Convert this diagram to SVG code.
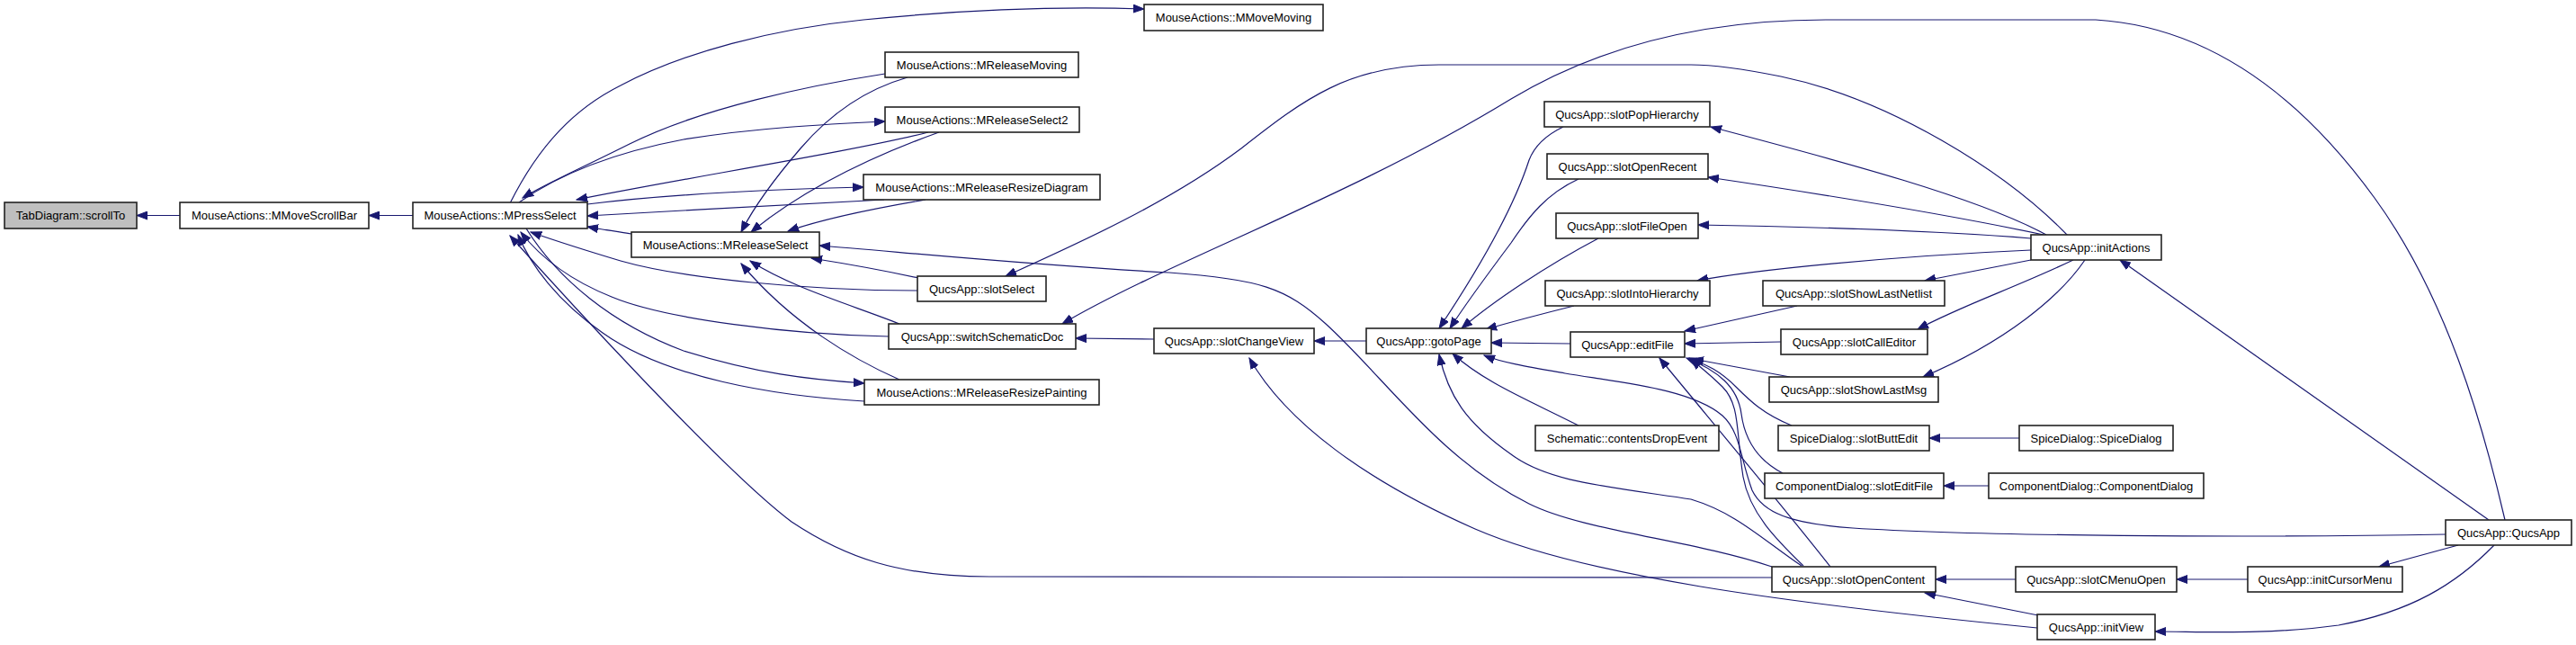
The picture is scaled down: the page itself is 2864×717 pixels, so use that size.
<svg xmlns="http://www.w3.org/2000/svg" width="2864" height="717" viewBox="0 0 2864 717">
<defs>
<marker id="ah" markerWidth="13" markerHeight="10" refX="12" refY="5" orient="auto" markerUnits="userSpaceOnUse">
<path d="M0,0.5 L12,5 L0,9.5 z" fill="#191970" stroke="#191970" stroke-width="1"/>
</marker>
<style>
.n rect{fill:#fff;stroke:#222;stroke-width:1.6}
.n.root rect{fill:#bfbfbf}
.n text{font-family:"Liberation Sans",Arial,sans-serif;font-size:13px;fill:#000;text-anchor:middle}
.e path{fill:none;stroke:#191970;stroke-width:1.2;marker-end:url(#ah)}
</style>
</defs>
<rect width="2864" height="717" fill="#fff"/>
<g id="edges" class="e">
<path d="M200,239.5 L152,239.5"/>
<path d="M459,239.5 L410,239.5"/>
<path d="M702,260 C690,258 675,256 653,252"/>
<path d="M567,226 C600,160 640,120 690,95 C760,58 860,32 960,22 C1080,10 1180,7 1272,10"/>
<path d="M984,82 C900,95 780,120 700,160 C640,190 605,205 581,220"/>
<path d="M1009,86 C960,100 920,130 890,165 C860,200 838,230 824,258"/>
<path d="M577,225 C620,195 680,170 760,155 C840,142 920,138 984,135"/>
<path d="M1032,147 C950,168 760,198 641,222"/>
<path d="M1044,147 C980,170 900,205 835,258"/>
<path d="M653,227 C750,215 880,210 960,208"/>
<path d="M983,222 C900,226 760,234 653,240"/>
<path d="M1029,222 C970,232 910,245 876,257"/>
<path d="M1970,630 C1880,600 1760,590 1700,560 C1600,510 1540,420 1474,360 C1430,320 1400,310 1300,303 C1150,295 1000,280 911,273"/>
<path d="M1021,309 C980,300 940,293 902,287"/>
<path d="M1020,323 C900,323 760,310 690,290 C640,275 610,265 590,258"/>
<path d="M2300,263 C2230,190 2100,110 1980,85 C1930,75 1900,72 1880,72 L1600,72 C1500,72 1450,110 1380,165 C1300,225 1200,270 1118,307"/>
<path d="M2785,578 C2760,470 2720,330 2640,220 C2560,110 2460,30 2330,22 L2030,22 C1900,22 1780,50 1680,110 C1500,220 1300,290 1181,360"/>
<path d="M1283,377 L1196,376"/>
<path d="M1519,379 L1461,379"/>
<path d="M2265,698 C1980,670 1760,640 1640,588 C1520,535 1430,470 1389,398"/>
<path d="M1738,141 C1715,152 1705,165 1700,178 C1680,240 1630,320 1600,365"/>
<path d="M1755,199 C1720,215 1700,240 1680,270 C1650,310 1625,345 1612,365"/>
<path d="M1777,265 C1720,295 1660,335 1625,365"/>
<path d="M1750,340 C1710,350 1680,358 1652,366"/>
<path d="M1746,382 L1658,381"/>
<path d="M1755,473 C1700,445 1650,425 1615,393"/>
<path d="M2003,629 C1960,600 1930,570 1880,555 C1780,540 1720,535 1680,505 C1630,470 1610,440 1600,394"/>
<path d="M2719,594 C2500,598 2200,596 2060,587 C1990,582 1960,570 1948,545 C1935,510 1935,480 1915,462 C1880,432 1800,425 1740,415 C1700,408 1670,403 1650,395"/>
<path d="M2035,630 C1980,560 1900,465 1845,398"/>
<path d="M2005,629 C1975,600 1945,570 1938,530 C1930,480 1935,450 1915,430 C1900,415 1890,408 1880,399"/>
<path d="M1990,419 L1882,399"/>
<path d="M1992,473 C1960,460 1945,445 1930,430 C1910,410 1895,405 1878,398"/>
<path d="M1982,526 C1955,512 1940,490 1936,460 C1932,430 1910,412 1875,398"/>
<path d="M1980,380 L1873,382"/>
<path d="M1998,340 L1873,368"/>
<path d="M2275,261 C2200,220 2050,180 1902,141"/>
<path d="M2272,261 C2150,235 2000,212 1899,197"/>
<path d="M2258,265 C2150,256 2000,252 1888,250"/>
<path d="M2258,278 C2100,285 1950,300 1887,312"/>
<path d="M2258,289 L2140,312"/>
<path d="M2305,289 C2240,320 2180,340 2132,366"/>
<path d="M2318,289 C2290,330 2230,380 2138,419"/>
<path d="M2767,578 L2357,289"/>
<path d="M2733,606 L2645,630"/>
<path d="M2773,606 C2730,650 2680,680 2600,695 C2520,706 2450,702 2396,702"/>
<path d="M2499,644 L2420,644"/>
<path d="M2241,644 L2152,644"/>
<path d="M2266,684 L2140,659"/>
<path d="M2245,487 L2145,487"/>
<path d="M2211,540 L2161,540"/>
<path d="M1970,642 L1100,641 C1000,641 940,620 880,580 C800,520 610,310 567,262"/>
<path d="M1000,360 C950,340 880,320 834,290"/>
<path d="M1000,422 C950,400 880,360 824,293"/>
<path d="M988,374 C880,372 740,355 680,330 C630,310 600,285 579,258"/>
<path d="M585,254 C620,310 680,360 760,390 C840,415 900,422 961,426"/>
<path d="M961,446 C860,440 740,420 670,370 C620,335 590,295 576,261"/>
</g>
<g id="n1" class="n root"><rect x="5" y="225" width="147" height="29"/><text x="78.5" y="244">TabDiagram::scrollTo</text></g>
<g id="n2" class="n"><rect x="200" y="225" width="210" height="29"/><text x="305" y="244">MouseActions::MMoveScrollBar</text></g>
<g id="n3" class="n"><rect x="459" y="225" width="194" height="29"/><text x="556" y="244">MouseActions::MPressSelect</text></g>
<g id="n4" class="n"><rect x="702" y="258" width="209" height="28"/><text x="806.5" y="276.5">MouseActions::MReleaseSelect</text></g>
<g id="n5" class="n"><rect x="1272" y="5" width="199" height="29"/><text x="1371.5" y="24">MouseActions::MMoveMoving</text></g>
<g id="n6" class="n"><rect x="984" y="58" width="215" height="28"/><text x="1091.5" y="76.5">MouseActions::MReleaseMoving</text></g>
<g id="n7" class="n"><rect x="984" y="119" width="216" height="28"/><text x="1092" y="137.5">MouseActions::MReleaseSelect2</text></g>
<g id="n8" class="n"><rect x="960" y="194" width="263" height="28"/><text x="1091.5" y="212.5">MouseActions::MReleaseResizeDiagram</text></g>
<g id="n9" class="n"><rect x="1020" y="307" width="143" height="28"/><text x="1091.5" y="325.5">QucsApp::slotSelect</text></g>
<g id="n10" class="n"><rect x="988" y="360" width="208" height="28"/><text x="1092" y="378.5">QucsApp::switchSchematicDoc</text></g>
<g id="n11" class="n"><rect x="961" y="422" width="261" height="28"/><text x="1091.5" y="440.5">MouseActions::MReleaseResizePainting</text></g>
<g id="n12" class="n"><rect x="1283" y="365" width="178" height="28"/><text x="1372" y="383.5">QucsApp::slotChangeView</text></g>
<g id="n13" class="n"><rect x="1519" y="365" width="139" height="28"/><text x="1588.5" y="383.5">QucsApp::gotoPage</text></g>
<g id="n14" class="n"><rect x="1717" y="113" width="184" height="28"/><text x="1809" y="131.5">QucsApp::slotPopHierarchy</text></g>
<g id="n15" class="n"><rect x="1720" y="171" width="179" height="28"/><text x="1809.5" y="189.5">QucsApp::slotOpenRecent</text></g>
<g id="n16" class="n"><rect x="1730" y="237" width="158" height="28"/><text x="1809" y="255.5">QucsApp::slotFileOpen</text></g>
<g id="n17" class="n"><rect x="1718" y="312" width="183" height="28"/><text x="1809.5" y="330.5">QucsApp::slotIntoHierarchy</text></g>
<g id="n18" class="n"><rect x="1746" y="369" width="127" height="28"/><text x="1809.5" y="387.5">QucsApp::editFile</text></g>
<g id="n19" class="n"><rect x="1707" y="473" width="204" height="28"/><text x="1809" y="491.5">Schematic::contentsDropEvent</text></g>
<g id="n20" class="n"><rect x="1970" y="630" width="182" height="28"/><text x="2061" y="648.5">QucsApp::slotOpenContent</text></g>
<g id="n21" class="n"><rect x="1960" y="312" width="202" height="28"/><text x="2061" y="330.5">QucsApp::slotShowLastNetlist</text></g>
<g id="n22" class="n"><rect x="1980" y="366" width="163" height="28"/><text x="2061.5" y="384.5">QucsApp::slotCallEditor</text></g>
<g id="n23" class="n"><rect x="1967" y="419" width="188" height="28"/><text x="2061" y="437.5">QucsApp::slotShowLastMsg</text></g>
<g id="n24" class="n"><rect x="1977" y="473" width="168" height="28"/><text x="2061" y="491.5">SpiceDialog::slotButtEdit</text></g>
<g id="n25" class="n"><rect x="1962" y="526" width="199" height="28"/><text x="2061.5" y="544.5">ComponentDialog::slotEditFile</text></g>
<g id="n26" class="n"><rect x="2258" y="261" width="145" height="28"/><text x="2330.5" y="279.5">QucsApp::initActions</text></g>
<g id="n27" class="n"><rect x="2245" y="473" width="171" height="28"/><text x="2330.5" y="491.5">SpiceDialog::SpiceDialog</text></g>
<g id="n28" class="n"><rect x="2211" y="526" width="239" height="28"/><text x="2330.5" y="544.5">ComponentDialog::ComponentDialog</text></g>
<g id="n29" class="n"><rect x="2241" y="630" width="179" height="28"/><text x="2330.5" y="648.5">QucsApp::slotCMenuOpen</text></g>
<g id="n30" class="n"><rect x="2265" y="683" width="131" height="28"/><text x="2330.5" y="701.5">QucsApp::initView</text></g>
<g id="n31" class="n"><rect x="2499" y="630" width="172" height="28"/><text x="2585" y="648.5">QucsApp::initCursorMenu</text></g>
<g id="n32" class="n"><rect x="2719" y="578" width="140" height="28"/><text x="2789" y="596.5">QucsApp::QucsApp</text></g>
</svg>
